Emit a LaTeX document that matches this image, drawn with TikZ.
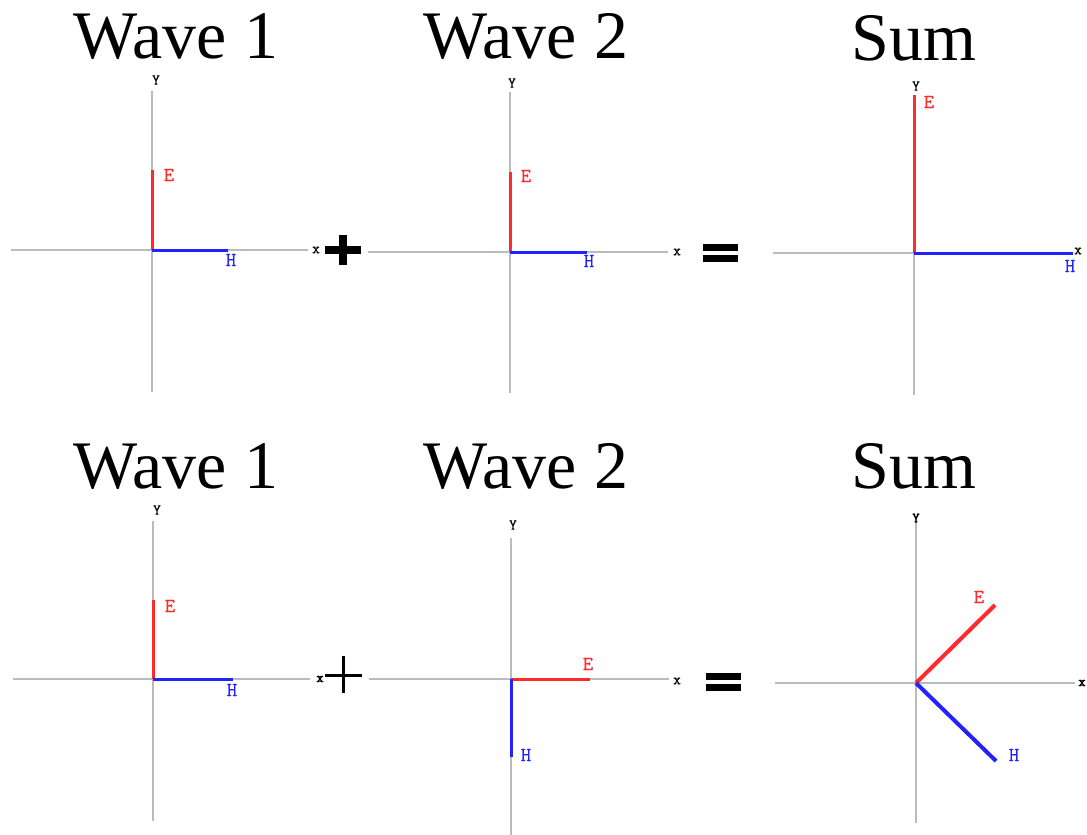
\documentclass[tikz,border=0pt]{standalone}
\usepackage{fontspec}
\setmainfont{Liberation Serif}
\newfontfamily\labfont[FakeBold=0.8]{Latin Modern Mono}
\newfontfamily\labfontb[FakeBold=3]{Latin Modern Mono}
\definecolor{axisgray}{HTML}{BBBBBB}
\definecolor{ered}{HTML}{FF2A2A}
\definecolor{hblue}{HTML}{2222FF}
\tikzset{
  axisline/.style={draw=axisgray, line width=1.8pt},
  evec/.style={draw=ered, line width=3pt},
  hvec/.style={draw=hblue, line width=3pt},
  evecb/.style={draw=ered, line width=4pt},
  hvecb/.style={draw=hblue, line width=4pt},
  wtitle/.style={font=\fontsize{68}{68}\selectfont, anchor=base, inner sep=0pt},
  axlab/.style={font=\labfont\fontsize{15}{15}\selectfont, inner sep=0pt},
  axlabb/.style={font=\labfontb\fontsize{14}{14}\selectfont, inner sep=0pt},
  elab/.style={font=\labfont\fontsize{20}{20}\selectfont, text=ered, inner sep=0pt},
  hlab/.style={font=\labfont\fontsize{20}{20}\selectfont, text=hblue, inner sep=0pt},
  opthick/.style={draw=black, line width=8pt},
  opthin/.style={draw=black, line width=3pt},
  eqbar/.style={draw=black, line width=6.5pt},
}
\begin{document}
\begin{tikzpicture}[x=1pt, y=-1pt]
\useasboundingbox (0,0) rectangle (1087,835);

% ---------- titles ----------
\node[wtitle] (t1) at (176,58) {Wave 1};
\node[wtitle] (t2) at (526,58) {Wave 2};
\node[wtitle] (t3) at (914,60) {Sum};
\node[wtitle] (t4) at (176,488) {Wave 1};
\node[wtitle] (t5) at (526,488) {Wave 2};
\node[wtitle] (t6) at (914,488) {Sum};

% ---------- panel 1 ----------
\coordinate (o1) at (152,250);
\coordinate (l1) at (11,250); \coordinate (r1) at (308,250);
\coordinate (u1) at (152,91);  \coordinate (d1) at (152,392);
\coordinate (e1) at (152,170); \coordinate (h1) at (228,250);
\draw[axisline] (l1) -- (r1);
\draw[axisline] (u1) -- (d1);
\draw[evec] (o1) -- (e1);
\draw[hvec] (o1) -- (h1);
\node[axlab] (x1) at (316,250) {x};
\node[axlab] (y1) at (156,80) {Y};
\node[elab] (el1) at (169,175) {E};
\node[hlab] (hl1) at (231,260) {H};

% plus (bold)
\coordinate (p1l) at (325,250); \coordinate (p1r) at (361,250);
\coordinate (p1u) at (343,235); \coordinate (p1d) at (343,265);
\draw[opthick] (p1l) -- (p1r);
\draw[opthick] (p1u) -- (p1d);

% ---------- panel 2 ----------
\coordinate (o2) at (510,252);
\coordinate (l2) at (368,252); \coordinate (r2) at (668,252);
\coordinate (u2) at (510,92);  \coordinate (d2) at (510,393);
\coordinate (e2) at (510,172); \coordinate (h2) at (587,252);
\draw[axisline] (l2) -- (r2);
\draw[axisline] (u2) -- (d2);
\draw[evec] (o2) -- (e2);
\draw[hvec] (o2) -- (h2);
\node[axlab] (x2) at (677,252) {x};
\node[axlab] (y2) at (512,83) {Y};
\node[elab] (el2) at (526,176) {E};
\node[hlab] (hl2) at (589,261) {H};

% equals
\coordinate (q1a) at (703,247.5); \coordinate (q1b) at (738,247.5);
\coordinate (q1c) at (703,258.5); \coordinate (q1d) at (738,258.5);
\draw[eqbar] (q1a) -- (q1b);
\draw[eqbar] (q1c) -- (q1d);

% ---------- panel 3 ----------
\coordinate (o3) at (914,253);
\coordinate (l3) at (773,253); \coordinate (r3) at (1073,253);
\coordinate (u3) at (914,95);  \coordinate (d3) at (914,395);
\coordinate (e3) at (914,95);  \coordinate (h3) at (1073,253);
\draw[axisline] (l3) -- (r3);
\draw[axisline] (u3) -- (d3);
\draw[evec] (o3) -- (e3);
\draw[hvec] (o3) -- (h3);
\node[axlab] (x3) at (1078,251) {x};
\node[axlab] (y3) at (916,86) {Y};
\node[elab] (el3) at (929,102) {E};
\node[hlab] (hl3) at (1070,266) {H};

% ---------- panel 4 ----------
\coordinate (o4) at (153,679);
\coordinate (l4) at (13,679); \coordinate (r4) at (310,679);
\coordinate (u4) at (153,521); \coordinate (d4) at (153,821);
\coordinate (e4) at (153,600); \coordinate (h4) at (233,679);
\draw[axisline] (l4) -- (r4);
\draw[axisline] (u4) -- (d4);
\draw[evec] (o4) -- (e4);
\draw[hvec] (o4) -- (h4);
\node[axlabb] (x4) at (320,679) {x};
\node[axlab] (y4) at (157,510) {Y};
\node[elab] (el4) at (170,606) {E};
\node[hlab] (hl4) at (232,690) {H};

% plus (thin)
\coordinate (p2l) at (325,675); \coordinate (p2r) at (362,675);
\coordinate (p2u) at (343,656); \coordinate (p2d) at (343,693);
\draw[opthin] (p2l) -- (p2r);
\draw[opthin] (p2u) -- (p2d);

% ---------- panel 5 ----------
\coordinate (o5) at (511,679);
\coordinate (l5) at (369,679); \coordinate (r5) at (669,679);
\coordinate (u5) at (511,538); \coordinate (d5) at (511,835);
\coordinate (e5) at (590,679); \coordinate (h5) at (511,757);
\draw[axisline] (l5) -- (r5);
\draw[axisline] (u5) -- (d5);
\draw[evec] (o5) -- (e5);
\draw[hvec] (o5) -- (h5);
\node[axlab] (x5) at (677,681) {x};
\node[axlab] (y5) at (513,525) {Y};
\node[elab] (el5) at (588,664) {E};
\node[hlab] (hl5) at (526,755) {H};

% equals
\coordinate (q2a) at (706,676.5); \coordinate (q2b) at (741,676.5);
\coordinate (q2c) at (706,687.5); \coordinate (q2d) at (741,687.5);
\draw[eqbar] (q2a) -- (q2b);
\draw[eqbar] (q2c) -- (q2d);

% ---------- panel 6 ----------
\coordinate (o6) at (916,683);
\coordinate (l6) at (775,683); \coordinate (r6) at (1075,683);
\coordinate (u6) at (916,517); \coordinate (d6) at (916,823);
\coordinate (e6) at (995,605); \coordinate (h6) at (996,761);
\draw[axisline] (l6) -- (r6);
\draw[axisline] (u6) -- (d6);
\draw[evecb] (o6) -- (e6);
\draw[hvecb] (o6) -- (h6);
\node[axlabb] (x6) at (1082,683) {x};
\node[axlabb] (y6) at (916,518) {Y};
\node[elab] (el6) at (979,597) {E};
\node[hlab] (hl6) at (1014,755) {H};
\end{tikzpicture}
\end{document}
